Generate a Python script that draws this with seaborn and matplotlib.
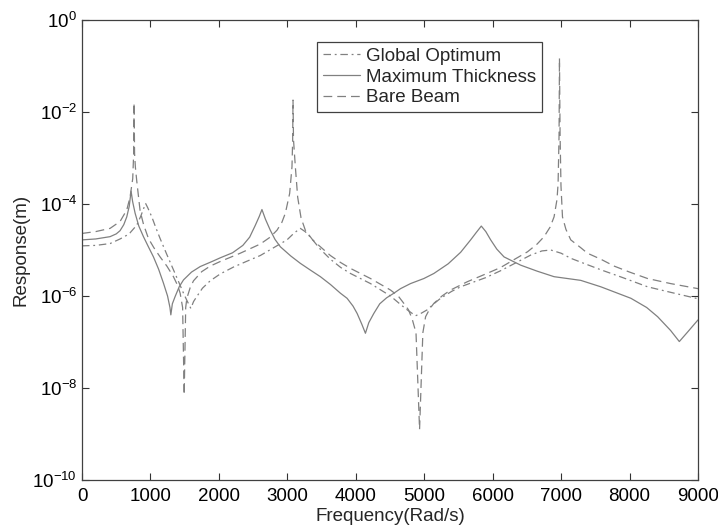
import numpy as np
import pandas as pd
import matplotlib
matplotlib.use("Agg")
import matplotlib.pyplot as plt
import seaborn as sns

# ---- data (frequency in rad/s, log10 of response in m) ----
global_freq = [0, 200, 410, 556, 654, 700, 800, 860, 900, 930, 960, 1020, 1080, 1141, 1240,
               1336, 1420, 1483, 1540, 1590, 1630, 1678, 1760, 1873, 2020, 2214, 2400, 2605,
               2800, 2995, 3100, 3190, 3260, 3337, 3480, 3629, 3780, 3922, 4215, 4507, 4650,
               4751, 4873, 4950, 5044, 5140, 5239, 5400, 5532, 5678, 5900, 6117, 6350, 6556,
               6720, 6849, 7000, 7141, 7350, 7580, 7900, 8263, 8600, 9000]
global_log = [-4.91, -4.90, -4.86, -4.76, -4.68, -4.63, -4.46, -4.26, -4.10, -3.99, -4.08,
              -4.28, -4.52, -4.75, -5.10, -5.43, -5.72, -5.94, -6.12, -6.27, -6.12, -6.01,
              -5.83, -5.67, -5.52, -5.37, -5.25, -5.12, -4.95, -4.78, -4.63, -4.53, -4.60,
              -4.72, -4.98, -5.20, -5.38, -5.51, -5.73, -6.00, -6.18, -6.30, -6.43, -6.38,
              -6.30, -6.17, -6.05, -5.90, -5.80, -5.72, -5.60, -5.45, -5.27, -5.11, -5.02,
              -5.00, -5.07, -5.18, -5.30, -5.43, -5.60, -5.80, -5.92, -6.06]

maxthick_freq = [0, 200, 410, 500, 556, 610, 654, 690, 717, 740, 776, 830, 898, 970, 1044,
                 1120, 1190, 1250, 1285, 1298, 1320, 1361, 1420, 1483, 1600, 1727, 1900, 2020,
                 2200, 2350, 2450, 2530, 2590, 2629, 2680, 2751, 2820, 2898, 3050, 3190, 3340,
                 3483, 3630, 3776, 3873, 3960, 4020, 4090, 4141, 4190, 4263, 4350, 4450, 4556,
                 4654, 4800, 4995, 5141, 5350, 5532, 5678, 5760, 5834, 5900, 5971, 6060, 6166,
                 6410, 6650, 6897, 7287, 7580, 8020, 8250, 8410, 8600, 8727, 8850, 9000]
maxthick_log = [-4.78, -4.76, -4.71, -4.65, -4.58, -4.45, -4.28, -4.05, -3.72, -3.95, -4.20,
                -4.48, -4.71, -4.93, -5.15, -5.42, -5.72, -6.00, -6.25, -6.41, -6.17, -6.01,
                -5.80, -5.65, -5.48, -5.36, -5.25, -5.17, -5.06, -4.90, -4.72, -4.47, -4.27,
                -4.12, -4.33, -4.57, -4.77, -4.93, -5.13, -5.29, -5.44, -5.58, -5.75, -5.94,
                -6.05, -6.22, -6.38, -6.62, -6.81, -6.58, -6.38, -6.17, -6.04, -5.94, -5.84,
                -5.73, -5.62, -5.51, -5.30, -5.05, -4.78, -4.62, -4.48, -4.60, -4.78, -4.98,
                -5.15, -5.33, -5.46, -5.58, -5.66, -5.80, -6.05, -6.25, -6.45, -6.75, -6.99,
                -6.78, -6.52]

bare_freq = [0, 200, 410, 556, 654, 702, 741, 755, 761, 768, 780, 800, 849, 900, 971, 1050,
             1141, 1240, 1336, 1400, 1434, 1470, 1493, 1515, 1532, 1580, 1629, 1750, 1873,
             2020, 2312, 2605, 2750, 2849, 2920, 2971, 3034, 3068, 3078, 3083, 3090, 3117,
             3151, 3200, 3263, 3370, 3483, 3629, 3776, 3922, 4215, 4507, 4620, 4702, 4770,
             4824, 4880, 4932, 4980, 5020, 5080, 5141, 5260, 5385, 5629, 5900, 6117, 6300,
             6508, 6650, 6751, 6840, 6897, 6940, 6956, 6970, 6976, 6985, 6998, 7020, 7070,
             7141, 7287, 7385, 7580, 7775, 8000, 8263, 8600, 9000]
bare_log = [-4.64, -4.60, -4.53, -4.38, -4.13, -3.85, -3.45, -2.90, -1.80, -2.90, -3.20,
            -3.50, -4.15, -4.45, -4.75, -4.95, -5.15, -5.35, -5.58, -5.78, -5.94, -6.25,
            -8.15, -6.25, -6.05, -5.82, -5.67, -5.47, -5.35, -5.25, -5.07, -4.87, -4.72,
            -4.57, -4.40, -4.20, -3.77, -3.19, -2.60, -1.74, -2.60, -3.19, -3.85, -4.30,
            -4.57, -4.78, -4.93, -5.12, -5.27, -5.40, -5.62, -5.87, -6.00, -6.16, -6.30,
            -6.50, -6.80, -8.90, -6.80, -6.45, -6.28, -6.16, -6.00, -5.87, -5.69, -5.52,
            -5.38, -5.22, -5.04, -4.87, -4.71, -4.50, -4.28, -3.90, -3.55, -2.50, -0.83,
            -2.50, -3.60, -4.28, -4.55, -4.78, -4.95, -5.07, -5.20, -5.35, -5.48, -5.62,
            -5.73, -5.84]

series_names = ["Global Optimum", "Maximum Thickness", "Bare Beam"]
x_ticks = [0, 1000, 2000, 3000, 4000, 5000, 6000, 7000, 8000, 9000]
y_ticks = [1e0, 1e-2, 1e-4, 1e-6, 1e-8, 1e-10]

frames = []
for name, f, lg in zip(series_names,
                       [global_freq, maxthick_freq, bare_freq],
                       [global_log, maxthick_log, bare_log]):
    frames.append(pd.DataFrame({"Frequency": f,
                                "Response": np.power(10.0, np.array(lg)),
                                "Series": name}))
df = pd.concat(frames, ignore_index=True)

sns.set_theme(style="white")
plt.rcParams["font.family"] = ["Liberation Sans", "DejaVu Sans"]
plt.rcParams["mathtext.fontset"] = "custom"
plt.rcParams["mathtext.rm"] = "Liberation Sans"
plt.rcParams["mathtext.it"] = "Liberation Sans:italic"
plt.rcParams["mathtext.bf"] = "Liberation Sans:bold"

fig = plt.figure(figsize=(7.18, 5.28), dpi=100)
ax = fig.add_axes([82 / 718, 1 - 480 / 528, (698 - 82) / 718, (480 - 20) / 528])

gray = "#808080"
ax = sns.lineplot(data=df, x="Frequency", y="Response", hue="Series", style="Series",
                  hue_order=series_names, style_order=series_names,
                  palette={n: gray for n in series_names},
                  dashes={"Global Optimum": (6, 3, 1.5, 3),
                          "Maximum Thickness": "",
                          "Bare Beam": (7, 4)},
                  estimator=None, sort=False, linewidth=0.9, ax=ax)

ax.set_yscale("log")
ax.set_xlim(0, 9000)
ax.set_ylim(1e-10, 1e0)
ax.set_xticks(x_ticks)
ax.set_xticklabels([str(t) for t in x_ticks])
ax.set_yticks(y_ticks)
ax.yaxis.set_minor_locator(matplotlib.ticker.NullLocator())
ax.tick_params(axis="both", which="major", direction="in", length=5, width=0.8,
               labelsize=13.5, colors="#333333", labelcolor="black",
               top=True, right=True, bottom=True, left=True)
ax.tick_params(axis="x", pad=6)
for sp in ax.spines.values():
    sp.set_color("#404040")
    sp.set_linewidth(0.9)

ax.set_xlabel("Frequency(Rad/s)", fontsize=13.5, labelpad=2)
ax.set_ylabel("Response(m)", fontsize=13.5, labelpad=2)

handles, labels = ax.get_legend_handles_labels()
leg = ax.legend(handles, labels, loc="upper left",
                bbox_to_anchor=((317 - 82) / 616, 1 - (42 - 20) / 460),
                frameon=True, fancybox=False, edgecolor="#404040", framealpha=1,
                fontsize=13.5, handlelength=2.0, handletextpad=0.3,
                borderpad=0.3, labelspacing=0.2, borderaxespad=0)
leg.get_frame().set_linewidth(0.9)

fig.savefig("out.png", dpi=100)
